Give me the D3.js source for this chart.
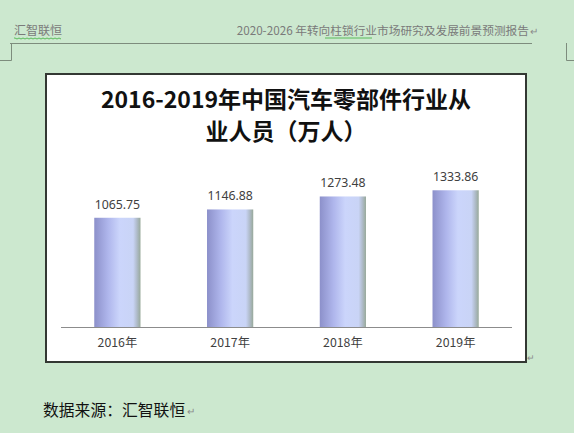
<!DOCTYPE html>
<html>
<head>
<meta charset="utf-8">
<script src="https://cdn.jsdelivr.net/npm/d3@7"></script>
<style>
  body { margin: 0; background: #cce8cf; }
  svg { display: block; }
</style>
</head>
<body>
<div id="chart"></div>
<script>
// dados do gráfico
var years = ["2016年", "2017年", "2018年", "2019年"];
var values = [1065.75, 1146.88, 1273.48, 1333.86];
var valueLabels = ["1065.75", "1146.88", "1273.48", "1333.86"];
var titleLines = ["2016-2019年中国汽车零部件行业从", "业人员（万人）"];

var W = 574, H = 433;
var cjk = "'Noto Sans CJK SC', 'Noto Sans', sans-serif";

var svg = d3.select("#chart")
            .append("svg")
            .attr("width", W)
            .attr("height", H);

// gradiente das barras
var grad = svg.append("defs").append("linearGradient")
              .attr("id", "barGrad")
              .attr("x1", "0%").attr("x2", "100%")
              .attr("y1", "0%").attr("y2", "0%");
[["0%", "#8c90ca"], ["30%", "#afb6ec"], ["55%", "#cbd5fb"], ["84%", "#c9d4f6"],
 ["92%", "#b0bccb"], ["100%", "#98a99a"]].forEach(function(s) {
    grad.append("stop").attr("offset", s[0]).attr("stop-color", s[1]);
});

// cabeçalho da página
svg.append("text")
   .attr("x", 14).attr("y", 35)
   .attr("font-family", cjk).attr("font-size", "12px")
   .attr("fill", "#7a7a7a")
   .text("汇智联恒");

svg.append("text")
   .attr("x", 529).attr("y", 35)
   .attr("text-anchor", "end")
   .attr("font-family", cjk).attr("font-size", "11.7px")
   .attr("fill", "#7a7a7a")
   .text("2020-2026 年转向柱锁行业市场研究及发展前景预测报告");

svg.append("text")
   .attr("x", 530).attr("y", 35)
   .attr("font-family", cjk).attr("font-size", "10px")
   .attr("fill", "#8a8a8a")
   .text("↵");

// sublinhados ondulados (corretor)
[[14, 61], [325, 372]].forEach(function(r) {
    var p = "M" + r[0] + ",38";
    for (var x = r[0]; x < r[1]; x += 2) {
        p += " L" + (x + 1) + "," + (x % 4 === 0 ? 39 : 38);
    }
    svg.append("path").attr("d", p).attr("fill", "none")
       .attr("stroke", "#3cae3c").attr("stroke-width", 0.8);
});

svg.append("line")
   .attr("x1", 10).attr("x2", 532)
   .attr("y1", 43.5).attr("y2", 43.5)
   .attr("stroke", "#7d8c7d").attr("stroke-width", 1);

// marcas de canto
svg.append("path").attr("d", "M0,60.5 H11.5 V43").attr("fill", "none")
   .attr("stroke", "#7d8c7d").attr("stroke-width", 1);
svg.append("path").attr("d", "M574,60.5 H566.5 V43").attr("fill", "none")
   .attr("stroke", "#7d8c7d").attr("stroke-width", 1);

// caixa do gráfico
svg.append("rect")
   .attr("x", 46).attr("y", 74)
   .attr("width", 480).attr("height", 288)
   .attr("fill", "#ffffff")
   .attr("stroke", "#333833").attr("stroke-width", 2);

svg.append("text")
   .attr("x", 527).attr("y", 361)
   .attr("font-family", cjk).attr("font-size", "9px")
   .attr("fill", "#8a8a8a")
   .text("↵");

// título
svg.selectAll(".title")
   .data(titleLines)
   .enter()
   .append("text")
   .attr("class", "title")
   .attr("x", 286)
   .attr("y", function(d, i) { return 108 + i * 31.5; })
   .attr("text-anchor", "middle")
   .attr("font-family", cjk)
   .attr("font-weight", "bold")
   .attr("font-size", "23px")
   .attr("fill", "#111")
   .text(function(d) { return d; });

// escalas
var xScale = d3.scaleBand()
               .domain(years)
               .range([61, 512])
               .paddingInner(0.59)
               .paddingOuter(0.295);

var yScale = d3.scaleLinear()
               .domain([0, 1600])
               .range([327, 163]);

// barras
svg.selectAll(".bar")
   .data(values)
   .enter()
   .append("rect")
   .attr("class", "bar")
   .attr("x", function(d, i) { return xScale(years[i]); })
   .attr("y", function(d) { return yScale(d); })
   .attr("width", xScale.bandwidth())
   .attr("height", function(d) { return yScale(0) - yScale(d); })
   .attr("fill", "url(#barGrad)");

// rótulos de valor
svg.selectAll(".vlabel")
   .data(values)
   .enter()
   .append("text")
   .attr("class", "vlabel")
   .attr("x", function(d, i) { return xScale(years[i]) + xScale.bandwidth() / 2; })
   .attr("y", function(d) { return yScale(d) - 9; })
   .attr("text-anchor", "middle")
   .attr("font-family", "'Noto Sans', sans-serif")
   .attr("font-size", "12.3px")
   .attr("fill", "#404040")
   .text(function(d, i) { return valueLabels[i]; });

// eixo x
var xAxis = svg.append("g")
   .attr("transform", "translate(0," + yScale(0) + ")")
   .call(d3.axisBottom(xScale).tickSize(0).tickPadding(11));

xAxis.select(".domain").attr("stroke", "#8c8c8c").attr("d", "M61,0.5H512");
xAxis.selectAll("text")
     .attr("font-family", cjk)
     .attr("font-size", "12.3px")
     .attr("fill", "#404040");

// fonte
svg.append("text")
   .attr("x", 43).attr("y", 416)
   .attr("font-family", cjk).attr("font-size", "15.8px")
   .attr("fill", "#111")
   .text("数据来源：汇智联恒");

svg.append("text")
   .attr("x", 187).attr("y", 415)
   .attr("font-family", cjk).attr("font-size", "10px")
   .attr("fill", "#8a8a8a")
   .text("↵");
</script>
</body>
</html>
